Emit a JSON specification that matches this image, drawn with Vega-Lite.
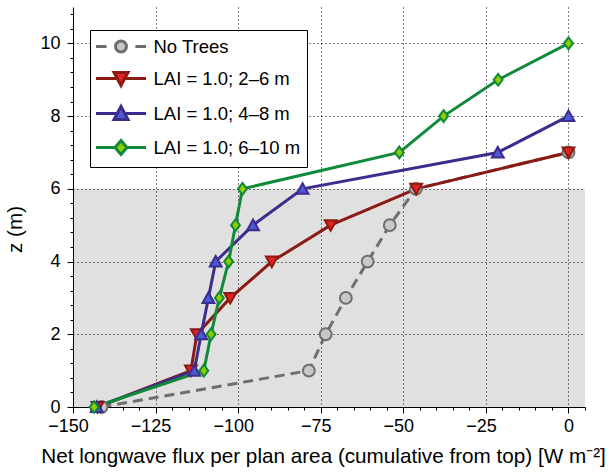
{
  "$schema": "https://vega.github.io/schema/vega-lite/v6.json",
  "width": 512,
  "height": 400,
  "autosize": "none",
  "padding": {"left": 73, "top": 7, "right": 25, "bottom": 65},
  "background": "white",
  "config": {
    "view": {"stroke": null},
    "font": "Liberation Sans",
    "axis": {
      "domainColor": "#000",
      "domainWidth": 1,
      "tickColor": "#000",
      "tickWidth": 1,
      "labelFont": "Liberation Sans",
      "labelFontSize": 18,
      "labelColor": "#000",
      "titleFont": "Liberation Sans",
      "titleFontSize": 20.7,
      "titleFontWeight": "normal",
      "titleColor": "#000",
      "gridColor": "#000",
      "gridDash": [1, 3],
      "gridWidth": 1,
      "labelOverlap": false,
      "labelBound": false,
      "labelFlush": false,
      "tickCount": 200
    },
    "legend": {
      "title": null,
      "orient": "none",
      "legendX": 17,
      "legendY": 23,
      "strokeColor": "#000",
      "fillColor": "#fff",
      "padding": 6,
      "symbolSize": 324,
      "symbolStrokeWidth": 3,
      "symbolOffset": 14.5,
      "labelFont": "Liberation Sans",
      "labelFontSize": 18.5,
      "labelColor": "#000",
      "labelOffset": 22,
      "rowPadding": 8
    }
  },
  "datasets": {
    "profiles": [
      {"series": "No Trees", "x": -141.4, "z": 0},
      {"series": "No Trees", "x": -78.6, "z": 1},
      {"series": "No Trees", "x": -73.5, "z": 2},
      {"series": "No Trees", "x": -67.4, "z": 3},
      {"series": "No Trees", "x": -60.8, "z": 4},
      {"series": "No Trees", "x": -54.1, "z": 5},
      {"series": "No Trees", "x": -46.2, "z": 6},
      {"series": "No Trees", "x": 0, "z": 7},
      {"series": "LAI = 1.0; 2–6 m", "x": -142.6, "z": 0},
      {"series": "LAI = 1.0; 2–6 m", "x": -114.3, "z": 1},
      {"series": "LAI = 1.0; 2–6 m", "x": -112.5, "z": 2},
      {"series": "LAI = 1.0; 2–6 m", "x": -102.4, "z": 3},
      {"series": "LAI = 1.0; 2–6 m", "x": -89.8, "z": 4},
      {"series": "LAI = 1.0; 2–6 m", "x": -72.0, "z": 5},
      {"series": "LAI = 1.0; 2–6 m", "x": -46.1, "z": 6},
      {"series": "LAI = 1.0; 2–6 m", "x": 0, "z": 7},
      {"series": "LAI = 1.0; 4–8 m", "x": -142.8, "z": 0},
      {"series": "LAI = 1.0; 4–8 m", "x": -113.3, "z": 1},
      {"series": "LAI = 1.0; 4–8 m", "x": -111.2, "z": 2},
      {"series": "LAI = 1.0; 4–8 m", "x": -109.0, "z": 3},
      {"series": "LAI = 1.0; 4–8 m", "x": -106.8, "z": 4},
      {"series": "LAI = 1.0; 4–8 m", "x": -95.5, "z": 5},
      {"series": "LAI = 1.0; 4–8 m", "x": -80.5, "z": 6},
      {"series": "LAI = 1.0; 4–8 m", "x": -21.4, "z": 7},
      {"series": "LAI = 1.0; 4–8 m", "x": 0, "z": 8},
      {"series": "LAI = 1.0; 6–10 m", "x": -143.6, "z": 0},
      {"series": "LAI = 1.0; 6–10 m", "x": -110.4, "z": 1},
      {"series": "LAI = 1.0; 6–10 m", "x": -108.2, "z": 2},
      {"series": "LAI = 1.0; 6–10 m", "x": -105.7, "z": 3},
      {"series": "LAI = 1.0; 6–10 m", "x": -102.9, "z": 4},
      {"series": "LAI = 1.0; 6–10 m", "x": -100.8, "z": 5},
      {"series": "LAI = 1.0; 6–10 m", "x": -98.7, "z": 6},
      {"series": "LAI = 1.0; 6–10 m", "x": -51.2, "z": 7},
      {"series": "LAI = 1.0; 6–10 m", "x": -37.8, "z": 8},
      {"series": "LAI = 1.0; 6–10 m", "x": -21.3, "z": 9},
      {"series": "LAI = 1.0; 6–10 m", "x": 0, "z": 10}
    ]
  },
  "layer": [
    {
      "data": {"values": [{"region": "canopy", "bottom": 0, "top": 6}]},
      "mark": {"type": "rect", "fill": "#000", "fillOpacity": 0.12},
      "encoding": {
        "y": {"field": "bottom", "type": "quantitative", "scale": {"domain": [0, 11], "nice": false, "zero": false}},
        "y2": {"field": "top"}
      }
    },
    {
      "data": {"name": "profiles"},
      "transform": [{"filter": "datum.series === 'No Trees'"}],
      "mark": {"type": "line", "strokeWidth": 3, "strokeDash": [10, 6]},
      "encoding": {
        "x": {
          "field": "x", "type": "quantitative",
          "scale": {"domain": [-150, 5], "nice": false, "zero": false},
          "axis": {
            "title": "Net longwave flux per plan area (cumulative from top) [W m⁻²]",
            "values": [-150,-145,-140,-135,-130,-125,-120,-115,-110,-105,-100,-95,-90,-85,-80,-75,-70,-65,-60,-55,-50,-45,-40,-35,-30,-25,-20,-15,-10,-5,0,5],
            "format": ".0f",
            "labelExpr": "datum.value % 25 === 0 ? datum.label : ''",
            "labelPadding": 4,
            "labelOffset": {"condition": {"test": "datum.value < 0", "value": -5}, "value": 0},
            "tickSize": {"condition": {"test": "datum.value % 25 === 0", "value": 6}, "value": 3},
            "grid": true,
            "gridOpacity": {"condition": {"test": "datum.value % 25 === 0 && datum.value > -150", "value": 1}, "value": 0},
            "titleX": 250,
            "titleY": 55,
            "titleBaseline": "alphabetic",
            "titleAlign": "center"
          }
        },
        "y": {
          "field": "z", "type": "quantitative",
          "scale": {"domain": [0, 11], "nice": false, "zero": false},
          "axis": {
            "title": "z (m)",
            "values": [0,0.4,0.8,1.2,1.6,2,2.4,2.8,3.2,3.6,4,4.4,4.8,5.2,5.6,6,6.4,6.8,7.2,7.6,8,8.4,8.8,9.2,9.6,10,10.4,10.8],
            "format": ".0f",
            "labelExpr": "datum.value % 2 === 0 ? datum.label : ''",
            "labelPadding": 7,
            "tickSize": {"condition": {"test": "datum.value % 2 === 0", "value": 6}, "value": 3},
            "grid": true,
            "gridOpacity": {"condition": {"test": "datum.value % 2 === 0 && datum.value > 0", "value": 1}, "value": 0},
            "titleX": -58,
            "titleY": 222,
            "titleBaseline": "middle",
            "titleAngle": -90
          }
        },
        "order": {"field": "z", "type": "quantitative"},
        "stroke": {
          "field": "series", "type": "nominal",
          "scale": {
            "domain": ["No Trees", "LAI = 1.0; 2–6 m", "LAI = 1.0; 4–8 m", "LAI = 1.0; 6–10 m"],
            "range": ["#6e6e6e", "#8c1a14", "#3b2c8e", "#0f8a38"]
          },
          "legend": {
            "encode": {
              "symbols": {
                "update": {
                  "shape": {"signal": "datum.value === 'No Trees' ? 'M-2.78,0H-1.6M1.6,0H2.78M-0.61,0A0.61,0.61,0,1,0,0.61,0A0.61,0.61,0,1,0,-0.61,0Z' : datum.value === 'LAI = 1.0; 2–6 m' ? 'M-2.78,0H-0.42M0.42,0H2.78M-0.78,-0.67L0.78,-0.67L0,0.78Z' : datum.value === 'LAI = 1.0; 4–8 m' ? 'M-2.78,0H-0.42M0.42,0H2.78M-0.78,0.67L0.78,0.67L0,-0.78Z' : 'M-2.78,0H-0.67M0.67,0H2.78M0,-0.78L0.67,0L0,0.78L-0.67,0Z'"},
                  "strokeWidth": {"value": 3},
                  "opacity": {"value": 1}
                }
              }
            }
          }
        }
      }
    },
    {
      "data": {"name": "profiles"},
      "transform": [{"filter": "datum.series !== 'No Trees'"}],
      "mark": {"type": "line", "strokeWidth": 3},
      "encoding": {
        "x": {"field": "x", "type": "quantitative"},
        "y": {"field": "z", "type": "quantitative"},
        "order": {"field": "z", "type": "quantitative"},
        "stroke": {"field": "series", "type": "nominal"}
      }
    },
    {
      "data": {"name": "profiles"},
      "mark": {"type": "point", "filled": true, "strokeWidth": 2, "size": 140, "opacity": 1},
      "encoding": {
        "x": {"field": "x", "type": "quantitative"},
        "y": {"field": "z", "type": "quantitative"},
        "stroke": {"field": "series", "type": "nominal"},
        "fill": {
          "field": "series", "type": "nominal",
          "scale": {
            "domain": ["No Trees", "LAI = 1.0; 2–6 m", "LAI = 1.0; 4–8 m", "LAI = 1.0; 6–10 m"],
            "range": ["#c8c8c8", "#e0231c", "#4b5ad2", "#8ccc00"]
          }
        },
        "shape": {
          "field": "series", "type": "nominal",
          "scale": {
            "domain": ["LAI = 1.0; 6–10 m", "LAI = 1.0; 4–8 m", "LAI = 1.0; 2–6 m", "No Trees"],
            "range": ["M0,-1L0.75,0L0,1L-0.75,0Z", "M-1,0.85L1,0.85L0,-0.95Z", "M-1,-0.85L1,-0.85L0,0.95Z", "circle"]
          },
          "legend": null
        }
      }
    }
  ]
}
